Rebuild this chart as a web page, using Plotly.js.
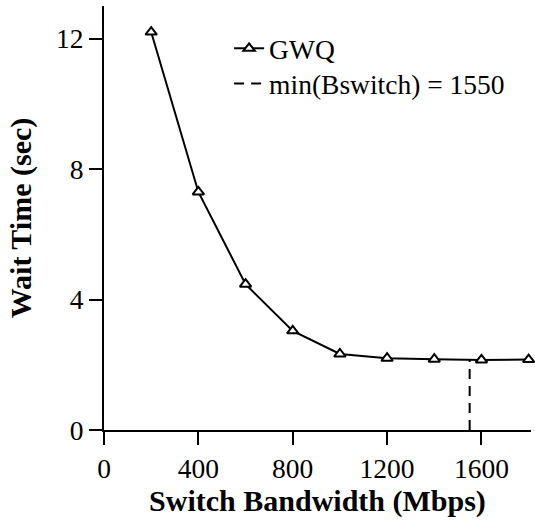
<!DOCTYPE html>
<html><head><meta charset="utf-8">
<script src="https://cdn.plot.ly/plotly-3.0.1.min.js"></script>
<style>html,body{margin:0;padding:0;background:#fff}#chart{width:535px;height:521px}</style>
</head><body><div id="chart"></div>
<script>
const bandwidth = [200, 400, 600, 800, 1000, 1200, 1400, 1600, 1800];
const waitTime = [12.2, 7.3, 4.47, 3.04, 2.33, 2.2, 2.17, 2.15, 2.16];
const minBswitchX = [1550, 1550];
const minBswitchY = [0, 2.15];
const xTicks = [0, 400, 800, 1200, 1600];
const yTicks = [0, 4, 8, 12];

const font = "Liberation Serif, Times New Roman, serif";

const traces = [
  {x: bandwidth, y: waitTime, mode: 'lines+markers', name: 'GWQ', legend: 'legend',
   line: {color: '#000', width: 2},
   marker: {symbol: 'triangle-up', size: 10, color: '#fff', line: {color: '#000', width: 2}},
   cliponaxis: false},
  {x: minBswitchX, y: minBswitchY, mode: 'lines', name: 'min(Bswitch) = 1550', legend: 'legend2',
   line: {color: '#000', width: 2, dash: '10px,7px'}, cliponaxis: false}
];

const legendCommon = {xanchor: 'left', yanchor: 'middle', bgcolor: 'rgba(0,0,0,0)',
  font: {family: font, size: 27.5, color: '#000'}, borderwidth: 0, tracegroupgap: 0};

const layout = {
  width: 535, height: 521,
  margin: {l: 104, r: 4, t: 6, b: 91},
  paper_bgcolor: '#fff', plot_bgcolor: '#fff',
  font: {family: font, color: '#000'},
  showlegend: true,
  legend: Object.assign({x: 0.293, y: 0.9}, legendCommon),
  legend2: Object.assign({x: 0.293, y: 0.817}, legendCommon),
  xaxis: {range: [0, 1810], tickvals: xTicks, ticktext: xTicks.map(String),
    showgrid: false, zeroline: false, showline: true, linecolor: '#000', linewidth: 2,
    ticks: 'outside', ticklen: 13, tickwidth: 2, tickcolor: '#000',
    tickfont: {family: font, size: 27.5, color: '#000'},
    title: {text: '<b>Switch Bandwidth (Mbps)</b>', font: {family: font, size: 30, color: '#000'}, standoff: 6}},
  yaxis: {range: [0, 13], tickvals: yTicks, ticktext: yTicks.map(String),
    showgrid: false, zeroline: false, showline: true, linecolor: '#000', linewidth: 2,
    ticks: 'outside', ticklen: 13, tickwidth: 2, tickcolor: '#000',
    tickfont: {family: font, size: 27.5, color: '#000'},
    title: {text: '<b>Wait Time (sec)</b>', font: {family: font, size: 30, color: '#000'}, standoff: 16}}
};

Plotly.newPlot('chart', traces, layout, {displayModeBar: false, staticPlot: true});
</script></body></html>
